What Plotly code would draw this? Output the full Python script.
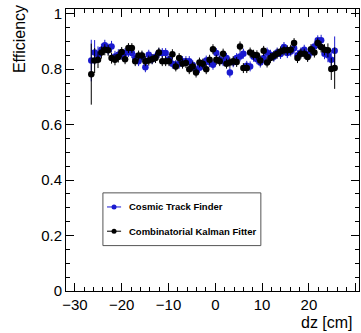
import plotly.graph_objects as go

# bin centres in dz [cm]
dz = [-26.50, -25.78, -25.06, -24.33, -23.61, -22.89, -22.17, -21.44, -20.72, -20.00,
      -19.28, -18.56, -17.83, -17.11, -16.39, -15.67, -14.94, -14.22, -13.50, -12.78,
      -12.06, -11.33, -10.61, -9.89, -9.17, -8.44, -7.72, -7.00, -6.28, -5.56,
      -4.83, -4.11, -3.39, -2.67, -1.94, -1.22, -0.50, 0.22, 0.94, 1.67,
      2.39, 3.11, 3.83, 4.56, 5.28, 6.00, 6.72, 7.44, 8.17, 8.89,
      9.61, 10.33, 11.06, 11.78, 12.50, 13.22, 13.94, 14.67, 15.39, 16.11,
      16.83, 17.56, 18.28, 19.00, 19.72, 20.44, 21.17, 21.89, 22.61, 23.33,
      24.06, 24.78, 25.50]

eff_ckf = [0.782, 0.831, 0.834, 0.860, 0.870, 0.868, 0.840, 0.834, 0.844, 0.862,
           0.836, 0.876, 0.876, 0.829, 0.849, 0.849, 0.829, 0.831, 0.836, 0.840,
           0.860, 0.829, 0.829, 0.829, 0.854, 0.810, 0.840, 0.820, 0.822, 0.800,
           0.810, 0.788, 0.824, 0.820, 0.800, 0.834, 0.872, 0.834, 0.829, 0.856,
           0.820, 0.824, 0.829, 0.826, 0.882, 0.804, 0.804, 0.860, 0.852, 0.850,
           0.831, 0.866, 0.824, 0.840, 0.848, 0.856, 0.864, 0.868, 0.868, 0.870,
           0.894, 0.840, 0.856, 0.856, 0.844, 0.872, 0.860, 0.894, 0.880, 0.870,
           0.868, 0.801, 0.804]
err_ckf = [0.110, 0.045, 0.030, 0.022, 0.020, 0.020, 0.020, 0.020, 0.020, 0.018,
           0.018, 0.018, 0.018, 0.018, 0.018, 0.018, 0.018, 0.018, 0.018, 0.018,
           0.018, 0.018, 0.018, 0.018, 0.018, 0.018, 0.018, 0.018, 0.018, 0.018,
           0.018, 0.018, 0.018, 0.018, 0.018, 0.018, 0.018, 0.018, 0.018, 0.018,
           0.018, 0.018, 0.018, 0.018, 0.018, 0.018, 0.018, 0.018, 0.018, 0.018,
           0.018, 0.018, 0.018, 0.018, 0.018, 0.018, 0.018, 0.018, 0.018, 0.018,
           0.018, 0.018, 0.018, 0.018, 0.018, 0.018, 0.018, 0.018, 0.020, 0.020,
           0.025, 0.040, 0.075]

eff_ctf = [0.831, 0.860, 0.852, 0.870, 0.886, 0.872, 0.882, 0.846, 0.852, 0.852,
           0.858, 0.862, 0.858, 0.840, 0.829, 0.845, 0.807, 0.852, 0.836, 0.845,
           0.858, 0.858, 0.858, 0.836, 0.820, 0.815, 0.820, 0.829, 0.829, 0.829,
           0.815, 0.795, 0.805, 0.816, 0.831, 0.825, 0.816, 0.858, 0.835, 0.829,
           0.840, 0.788, 0.825, 0.840, 0.846, 0.856, 0.812, 0.810, 0.845, 0.836,
           0.824, 0.840, 0.860, 0.852, 0.845, 0.860, 0.855, 0.880, 0.858, 0.864,
           0.875, 0.850, 0.860, 0.870, 0.848, 0.860, 0.882, 0.904, 0.904, 0.856,
           0.850, 0.834, 0.866]
err_ctf = [0.075, 0.045, 0.030, 0.022, 0.020, 0.020, 0.020, 0.020, 0.020, 0.018,
           0.018, 0.018, 0.018, 0.018, 0.018, 0.018, 0.018, 0.018, 0.018, 0.018,
           0.018, 0.018, 0.018, 0.018, 0.018, 0.018, 0.018, 0.018, 0.018, 0.018,
           0.018, 0.018, 0.018, 0.018, 0.018, 0.018, 0.018, 0.018, 0.018, 0.018,
           0.018, 0.018, 0.018, 0.018, 0.018, 0.018, 0.018, 0.018, 0.018, 0.018,
           0.018, 0.018, 0.018, 0.018, 0.018, 0.018, 0.018, 0.018, 0.018, 0.018,
           0.018, 0.018, 0.018, 0.018, 0.018, 0.018, 0.018, 0.018, 0.020, 0.020,
           0.025, 0.035, 0.052]

series_names = ["Cosmic Track Finder", "Combinatorial Kalman Fitter"]
BLUE = "#1a1ad0"
BLACK = "#000000"
FONT = "Liberation Sans, Arial, sans-serif"

fig = go.Figure()
for y, e, c in [(eff_ctf, err_ctf, BLUE), (eff_ckf, err_ckf, BLACK)]:
    fig.add_trace(go.Scatter(
        x=dz, y=y, mode="markers",
        marker=dict(color=c, size=6.5, symbol="circle"),
        error_y=dict(type="data", array=e, color=c, thickness=1, width=0),
        showlegend=False, hoverinfo="skip"))

axis_common = dict(
    showline=True, linecolor="black", linewidth=1, mirror="allticks",
    ticks="inside", ticklen=8, tickcolor="black", tickwidth=1,
    showgrid=False, zeroline=False,
    tickfont=dict(family=FONT, size=15, color="black"),
)
fig.update_xaxes(range=[-31.9, 30.7], tick0=-30, dtick=10,
                 minor=dict(ticks="inside", ticklen=4, dtick=2, tick0=0, tickcolor="black", showgrid=False),
                 **axis_common)
fig.update_yaxes(range=[0, 1.017], tick0=0, dtick=0.2, tickformat="~g",
                 minor=dict(ticks="inside", ticklen=4, dtick=0.05, tick0=0, tickcolor="black", showgrid=False),
                 **axis_common)

# legend drawn in paper coordinates
L, R, T, B = 0.126, 0.665, 0.348, 0.161
fig.add_shape(type="rect", xref="paper", yref="paper", x0=L, x1=R, y0=B, y1=T,
              line=dict(color="#555555", width=1), fillcolor="white", layer="above")
ys = [0.298, 0.212]
for name, c, yy in zip(series_names, [BLUE, BLACK], ys):
    fig.add_shape(type="line", xref="paper", yref="paper", x0=0.140, x1=0.188, y0=yy, y1=yy,
                  line=dict(color=c, width=1), layer="above")
    fig.add_shape(type="circle", xref="paper", yref="paper", xsizemode="pixel", ysizemode="pixel",
                  xanchor=0.164, yanchor=yy, x0=-2.5, x1=2.5, y0=-2.5, y1=2.5,
                  fillcolor=c, line=dict(color=c, width=0), layer="above")
    fig.add_annotation(text="<b>%s</b>" % name, xref="paper", yref="paper", x=0.208, y=yy,
                       xanchor="left", yanchor="middle", showarrow=False,
                       font=dict(family=FONT, size=9.5, color="black"))

fig.add_annotation(text="Efficiency", xref="paper", yref="paper", x=-0.158, y=1.02,
                   xanchor="center", yanchor="top", textangle=-90, showarrow=False,
                   font=dict(family=FONT, size=16, color="black"))
fig.add_annotation(text="dz [cm]", xref="paper", yref="paper", x=0.986, y=-0.11,
                   xanchor="right", yanchor="middle", showarrow=False,
                   font=dict(family=FONT, size=16, color="black"))

fig.update_layout(width=361, height=333, margin=dict(l=66, r=2, t=9, b=42),
                  paper_bgcolor="white", plot_bgcolor="white", hovermode=False)
fig.write_html("out.html", config={"displayModeBar": False, "staticPlot": True},
               post_script="document.body.style.margin='0';document.body.style.overflow='hidden';")
